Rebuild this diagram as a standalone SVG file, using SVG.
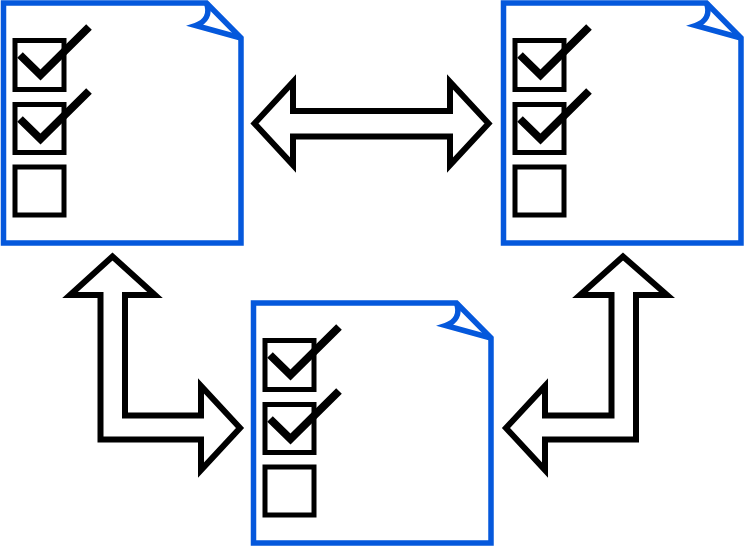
<svg xmlns="http://www.w3.org/2000/svg" width="746" height="554" viewBox="0 0 746 554">
  <style>
    .sheet { fill: #fff; stroke: #0558dc; stroke-width: 5.500; stroke-miterlimit: 10; }
    .fold { fill: none; stroke: #0558dc; stroke-width: 5.500; stroke-miterlimit: 10; }
    .box { fill: #fff; stroke: #000; stroke-width: 5; }
    .tick { fill: none; stroke: #000; stroke-width: 8; stroke-miterlimit: 10; }
    .arrow { fill: #fff; stroke: #000; stroke-width: 6; stroke-miterlimit: 10; }
  </style>
  <defs>
    <g id="checklist">
      <path class="sheet" d="M3.500 3H206.500L241 38V243H3.500Z"/>
      <path class="fold" d="M206.500 3C210.500 14 206 22 195.500 25.500L241 38"/>
      <rect class="box" x="15" y="40.500" width="49" height="49"/>
      <rect class="box" x="15" y="104.500" width="49" height="48"/>
      <rect class="box" x="15" y="167" width="49" height="48"/>
      <path class="tick" d="M20 55L40.500 75L89 27"/>
      <path class="tick" d="M20 119L40.500 139L89 91"/>
    </g>
  </defs>
  <g id="connectors">
    <path class="arrow" d="M254.500 123.500L293 82V111H450V82L488.500 123.500L450 165V136.500H293V165Z"/>
    <path class="arrow" d="M112.500 256.500L70 295H100.500V439.500H201V470L240 428L201 386V415.500H125V295H155Z"/>
    <path class="arrow" d="M623 256.500L580 295H611.500V415.500H545V386L506 428L545 470V439.500H636V295H667Z"/>
  </g>
  <g id="doc-left"><use href="#checklist"/></g>
  <g id="doc-right"><use href="#checklist" x="500"/></g>
  <g id="doc-bottom"><use href="#checklist" x="250" y="300"/></g>
</svg>
